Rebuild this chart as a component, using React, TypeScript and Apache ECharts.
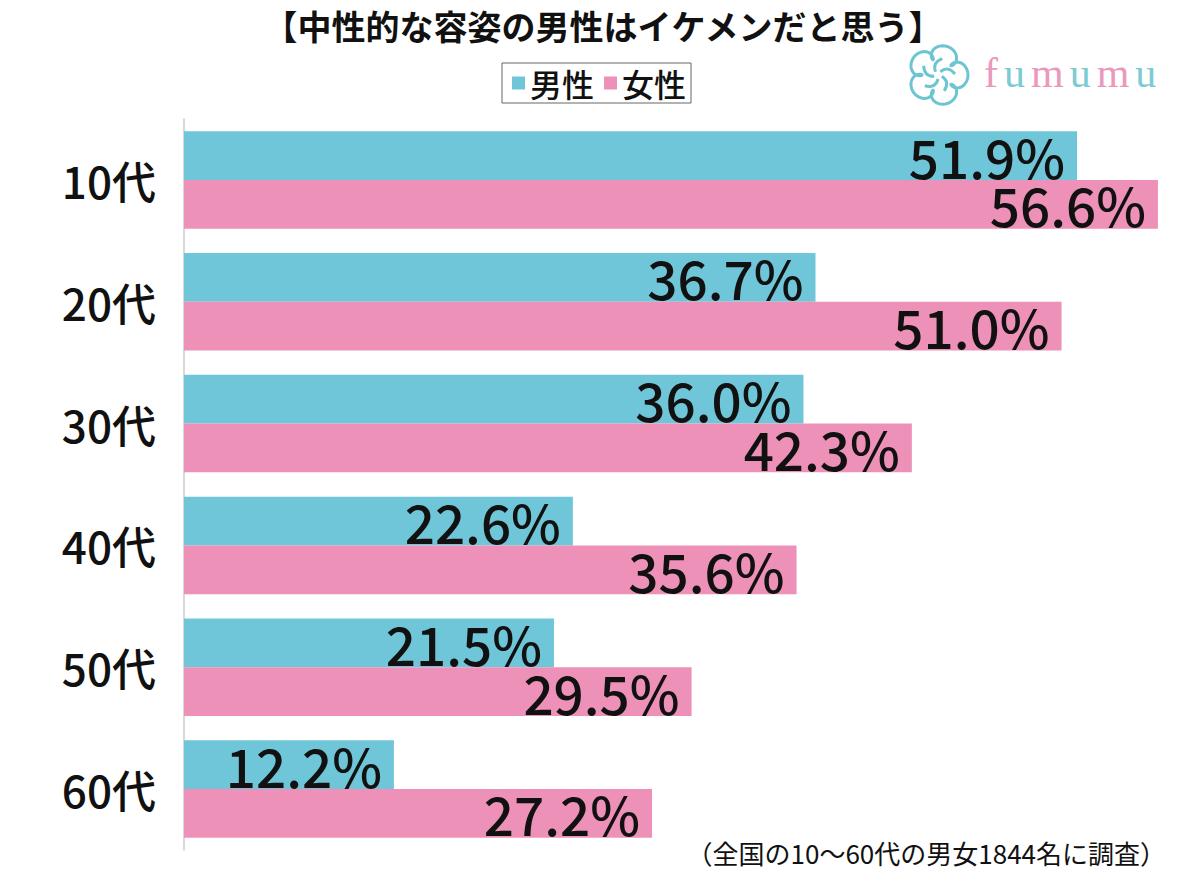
import React, { useEffect, useRef } from "react";
import * as echarts from "echarts";

const categories = ["10代", "20代", "30代", "40代", "50代", "60代"];
const maleValues = [51.9, 36.7, 36.0, 22.6, 21.5, 12.2];
const femaleValues = [56.6, 51.0, 42.3, 35.6, 29.5, 27.2];
const seriesNames = ["男性", "女性"];
const titleText = "【中性的な容姿の男性はイケメンだと思う】";
const noteText = "（全国の10〜60代の男女1844名に調査）";

const BLUE = "#6fc6d9";
const PINK = "#ee91b8";
const FONT = "'Noto Sans CJK JP', 'Noto Sans', sans-serif";

function flowerPath(): string {
  const pts: string[] = [];
  const N = 200;
  for (let i = 0; i <= N; i++) {
    const t = (i / N) * Math.PI * 2;
    const r = 23 + 7 * Math.cos(5 * t);
    const a = t + 0.28 * Math.sin(5 * t);
    const x = r * Math.cos(a);
    const y = r * Math.sin(a);
    pts.push((i === 0 ? "M" : "L") + x.toFixed(2) + " " + y.toFixed(2));
  }
  let d = pts.join(" ") + " Z";
  for (let k = 0; k < 5; k++) {
    const a0 = (k / 5) * Math.PI * 2 + 0.3;
    const a1 = a0 + 0.9;
    const x1 = 4 * Math.cos(a0), y1 = 4 * Math.sin(a0);
    const cx = 14 * Math.cos(a0 + 0.2), cy = 14 * Math.sin(a0 + 0.2);
    const x2 = 17 * Math.cos(a1), y2 = 17 * Math.sin(a1);
    d += ` M${x1.toFixed(2)} ${y1.toFixed(2)} Q${cx.toFixed(2)} ${cy.toFixed(2)} ${x2.toFixed(2)} ${y2.toFixed(2)}`;
  }
  return d;
}

let registered = false;

export default function App() {
  const ref = useRef<HTMLDivElement>(null);
  useEffect(() => {
    if (!ref.current) return;
    if (!registered) {
      echarts.graphic.registerShape("logo", echarts.graphic.extendPath(flowerPath(), {}) as any);
      registered = true;
    }
    const chart = echarts.init(ref.current, null, { renderer: "svg" });
    const labelCommon = {
      show: true,
      position: "insideRight" as const,
      distance: 12,
      color: "#111",
      fontSize: 53,
      fontWeight: 500,
      lineHeight: 40,
      fontFamily: FONT,
      formatter: (p: any) => Number(p.value).toFixed(1) + "%",
    };
    chart.setOption({
      animation: false,
      backgroundColor: "#ffffff",
      title: {
        text: titleText,
        left: 598,
        textAlign: "center",
        top: 3,
        textStyle: { fontSize: 34, fontWeight: "bold", color: "#111", fontFamily: FONT },
      },
      legend: {
        data: seriesNames,
        left: 502,
        top: 63,
        icon: "rect",
        itemWidth: 13,
        itemHeight: 13,
        itemGap: 10,
        padding: [4, 5, 4, 10],
        borderColor: "#666",
        borderWidth: 1,
        textStyle: { fontSize: 32, fontWeight: 500, color: "#111", fontFamily: FONT },
      },
      grid: { left: 184, top: 119, width: 998, height: 731, containLabel: false },
      xAxis: {
        type: "value",
        min: 0,
        max: 58,
        show: false,
      },
      yAxis: {
        type: "category",
        data: categories,
        inverse: true,
        axisLine: { show: true, lineStyle: { color: "#cccccc", width: 1.5 } },
        axisTick: { show: false },
        axisLabel: { fontSize: 44, fontWeight: 500, color: "#111", margin: 28, fontFamily: FONT },
      },
      series: [
        {
          name: seriesNames[0],
          type: "bar",
          data: maleValues,
          itemStyle: { color: BLUE },
          barGap: "0%",
          barCategoryGap: "20%",
          label: labelCommon,
        },
        {
          name: seriesNames[1],
          type: "bar",
          data: femaleValues,
          itemStyle: { color: PINK },
          barGap: "0%",
          barCategoryGap: "20%",
          label: labelCommon,
        },
      ],
      graphic: [
        {
          type: "text",
          right: 34,
          top: 839,
          style: { text: noteText, fontSize: 26, fill: "#111", fontFamily: FONT },
        },
        {
          type: "logo",
          x: 938,
          y: 75,
          scaleX: 1,
          scaleY: 1,
          style: { fill: "none", stroke: "#6cc5d0", lineWidth: 3 },
        },
        {
          type: "text",
          left: 984,
          top: 52,
          style: {
            text: "{p|f}{b|u}{p|m}{b|u}{p|m}{b|u}",
            rich: {
              p: { fill: "#ea98bb", fontSize: 42, fontFamily: "'Liberation Serif', serif", padding: [0, 3, 0, 3] },
              b: { fill: "#7ccbd3", fontSize: 42, fontFamily: "'Liberation Serif', serif", padding: [0, 3, 0, 3] },
            },
          },
        },
      ],
    });
    return () => chart.dispose();
  }, []);
  return (
    <div
      ref={ref}
      style={{ position: "fixed", left: 0, top: 0, width: 1200, height: 870, background: "#fff" }}
    />
  );
}
